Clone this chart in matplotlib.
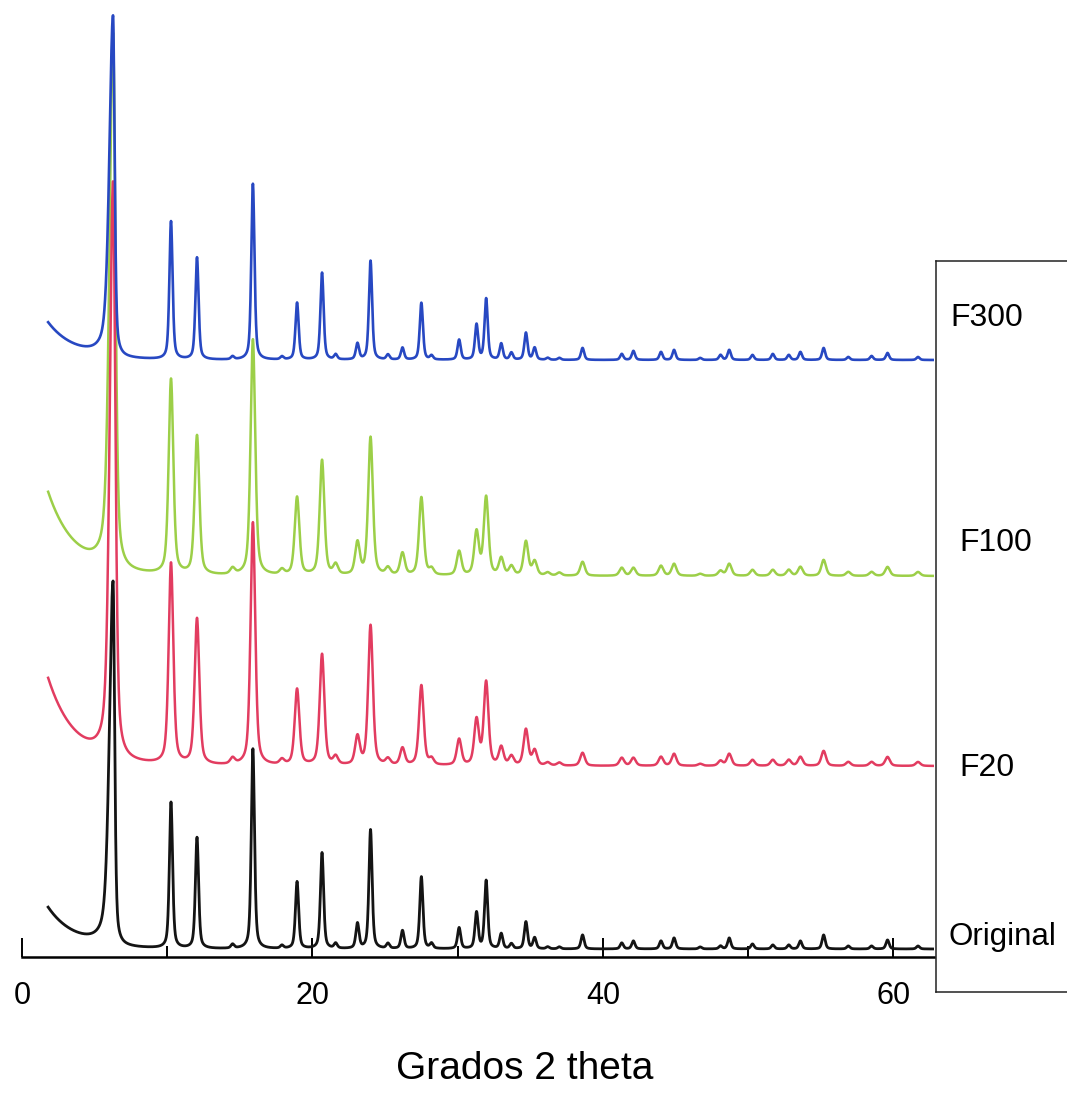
import numpy as np
import matplotlib.pyplot as plt
from matplotlib.lines import Line2D

# peak positions (degrees 2 theta) and peak heights above baseline for each sample
peak_pos = [6.27, 10.26, 12.05, 14.5, 15.9, 17.9, 18.94, 20.66, 21.6, 23.1,
            24.0, 25.2, 26.2, 27.5, 28.2, 30.1, 31.3, 31.96, 33.0, 33.7,
            34.7, 35.3, 36.2, 37.0, 38.6, 41.3, 42.1, 44.0, 44.9, 46.7,
            48.1, 48.7, 50.3, 51.7, 52.8, 53.6, 55.2, 56.9, 58.5, 59.6, 61.7]

h_original = [364, 146, 111, 4, 200, 3, 67, 96, 5, 25,
              119, 5, 18, 72, 5, 21, 36, 68, 15, 5,
              27, 11, 2, 2, 14, 6, 8, 8, 11, 2,
              3, 11, 5, 4, 4, 8, 14, 3, 3, 9, 3]
h_f20 = [576, 201, 146, 6, 243, 5, 76, 111, 8, 28,
         140, 6, 17, 80, 6, 26, 45, 83, 18, 9,
         36, 15, 3, 3, 13, 8, 8, 9, 12, 2,
         5, 12, 6, 6, 6, 9, 15, 4, 4, 9, 4]
h_f100 = [535, 195, 139, 6, 236, 5, 78, 115, 10, 32,
          138, 7, 22, 78, 6, 24, 43, 78, 17, 9,
          34, 14, 3, 3, 14, 8, 8, 10, 12, 2,
          5, 12, 6, 6, 6, 9, 16, 4, 4, 9, 4]
h_f300 = [341, 138, 102, 3, 176, 3, 57, 87, 5, 16,
          99, 5, 12, 57, 4, 20, 35, 61, 16, 7,
          27, 12, 2, 2, 12, 6, 9, 8, 10, 2,
          5, 10, 5, 6, 5, 8, 12, 3, 4, 7, 3]

names = ['Original', 'F20', 'F100', 'F300']
colors = ['#141414', '#e23c60', '#9ccf48', '#2748c2']
offsets = [8, 191, 381, 597]          # vertical shift of each pattern
bg_start = [41, 87, 83, 37]           # low-angle background at 1.8 deg
peak_hw = [0.13, 0.19, 0.19, 0.13]    # half width of the reflections
main_hw_left = [0.3, 0.27, 0.29, 0.3]
lw = [2.0, 1.8, 1.8, 1.9]

tt = np.arange(1.8, 62.8, 0.01)


def pattern(heights, hw, hw_left, bg0):
    y = bg0 * np.exp(-(tt - tt[0]) / 1.9)
    for i, (p, h) in enumerate(zip(peak_pos, heights)):
        if i == 0:
            w = np.where(tt < p, hw_left, hw)
        else:
            w = hw
        d = (tt - p) / w
        y = y + h * (0.5 / (1 + d ** 2) + 0.5 * np.exp(-np.log(2) * d ** 2))
    return y


W, H = 1067, 1093
fig = plt.figure(figsize=(W / 100, H / 100), dpi=100)
ax = fig.add_axes([22 / W, (H - 957) / H, (934 - 22) / W, 957 / H])

heights = [h_original, h_f20, h_f100, h_f300]
for k in [0, 2, 1, 3]:
    y = pattern(heights[k], peak_hw[k], main_hw_left[k], bg_start[k])
    ax.plot(tt, y + offsets[k], color=colors[k], lw=lw[k], solid_joinstyle='round')

ax.set_xlim(0, 62.8)
ax.set_ylim(0, 957)
for s in ['left', 'right', 'top']:
    ax.spines[s].set_visible(False)
ax.spines['bottom'].set_linewidth(1.8)
ax.set_yticks([])
ax.set_xticks([0, 20, 40, 60])
ax.set_xticks([10, 30, 50], minor=True)
ax.tick_params(axis='x', which='major', direction='in', length=14, width=1.4, pad=17)
ax.tick_params(axis='x', which='minor', direction='in', length=8, width=1.4)

font = ['Liberation Sans', 'DejaVu Sans']
for lab in ax.get_xticklabels():
    lab.set_fontfamily(font)
    lab.set_fontsize(22)

fig.text(525 / W, 1 - 1069 / H, 'Grados 2 theta', family=font, fontsize=28,
         ha='center', va='center')

# legend box on the right
for xs, ys in [([936, 936], [261, 992]), ([936, W + 5], [261, 261]), ([936, W + 5], [992, 992])]:
    fig.add_artist(Line2D([x / W for x in xs], [1 - y / H for y in ys],
                          color='#222222', lw=1.1))

label_pos = [(949, 937), (959, 768), (959, 543), (950, 318)]
sizes = [22.5, 23, 23, 23]
for (lx, ly), n, fs in zip(label_pos, names, sizes):
    fig.text(lx / W, 1 - ly / H, n, family=font, fontsize=fs, ha='left', va='center')

fig.savefig('out.png', dpi=100)
